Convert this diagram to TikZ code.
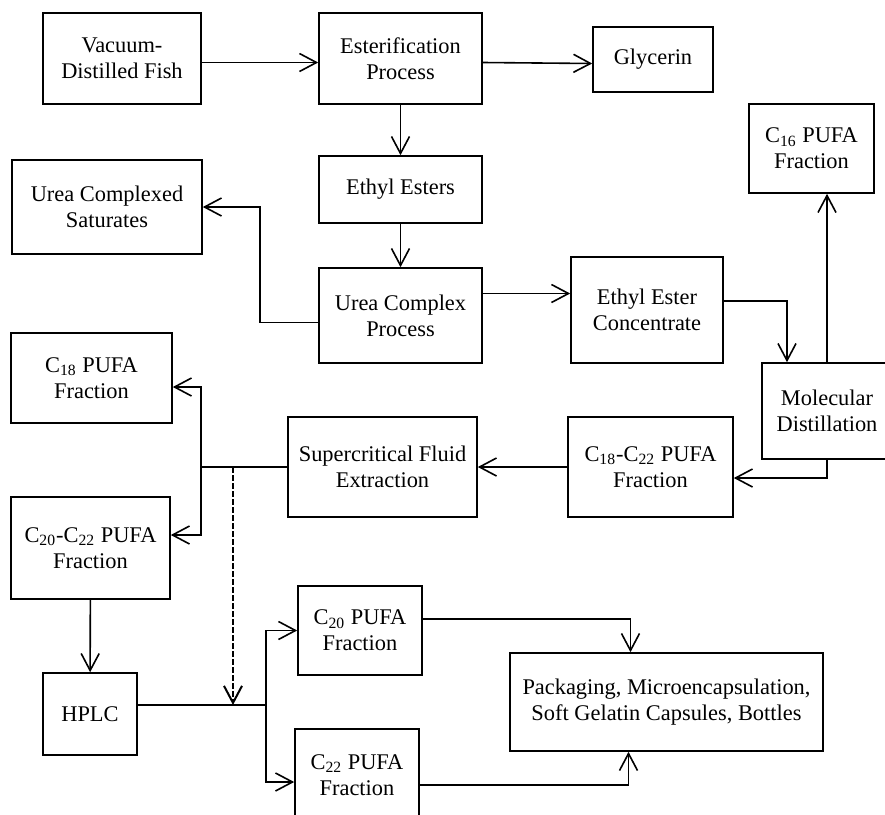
\documentclass[tikz,border=0pt]{standalone}
\usepackage{fontspec}
\setmainfont{Liberation Serif}
\usepackage{tikz}
\usetikzlibrary{arrows.meta, positioning, calc}

\begin{document}
\begin{tikzpicture}[x=0.5pt, y=-0.5pt,
    every node/.style={font=\fontsize{11.2}{13}\selectfont},
    box/.style={draw, line width=0.8pt, align=center, inner sep=0pt},
    arr/.style={line width=0.8pt, -{Straight Barb[length=8.5pt, width=9pt]}}]
  \clip (0,0) rectangle (885,815);
  % process boxes
  \node[box, minimum width=79pt, minimum height=45.5pt] (vac) at (122,58.5) {Vacuum-\\Distilled Fish};
  \node[box, minimum width=81.5pt, minimum height=45.5pt] (est) at (400.5,58.5) {Esterification\\Process};
  \node[box, minimum width=60pt, minimum height=32.5pt] (gly) at (653,59.5) {Glycerin};
  \node[box, minimum width=81.5pt, minimum height=33.5pt] (ethyl) at (400.5,189.5) {Ethyl Esters};
  \node[box, minimum width=95pt, minimum height=47pt] (sat) at (107,207) {Urea Complexed\\Saturates};
  \node[box, minimum width=81.5pt, minimum height=47.5pt] (urea) at (400.5,315.5) {Urea Complex\\Process};
  \node[box, minimum width=76pt, minimum height=53pt] (eec) at (647,310) {Ethyl Ester\\Concentrate};
  \node[box, minimum width=62.5pt, minimum height=44.5pt] (c16) at (811.5,148.5) {C\textsubscript{16} PUFA\\Fraction};
  \node[box, minimum width=65pt, minimum height=48pt] (md) at (827,411) {Molecular\\Distillation};
  \node[box, minimum width=82.5pt, minimum height=50pt] (c1822) at (650.5,467) {C\textsubscript{18}-C\textsubscript{22} PUFA\\Fraction};
  \node[box, minimum width=94.5pt, minimum height=50pt] (sfe) at (382.5,467) {Supercritical Fluid\\Extraction};
  \node[box, minimum width=80.5pt, minimum height=45pt] (c18) at (91.5,378) {C\textsubscript{18} PUFA\\Fraction};
  \node[box, minimum width=79.5pt, minimum height=51pt] (c2022) at (90.5,548) {C\textsubscript{20}-C\textsubscript{22} PUFA\\Fraction};
  \node[box, minimum width=47pt, minimum height=41pt] (hplc) at (90,714) {HPLC};
  \node[box, minimum width=62pt, minimum height=44.5pt] (c20) at (360,630.5) {C\textsubscript{20} PUFA\\Fraction};
  \node[box, minimum width=62pt, minimum height=46pt] (c22) at (357,775) {C\textsubscript{22} PUFA\\Fraction};
  \node[box, minimum width=156.5pt, minimum height=49pt] (pack) at (666.5,702) {Packaging, Microencapsulation,\\Soft Gelatin Capsules, Bottles};

  % branch points
  \coordinate (split) at (201,467);
  \coordinate (tap) at (233,467);
  \coordinate (join) at (266,705);
  \coordinate (u1) at ([yshift=11pt]urea.east);

  % main line
  \draw[arr] ([yshift=-2pt]vac.east) -- ([yshift=-2pt]est.west);
  \draw[arr] ([yshift=-2pt]est.east) -- ([yshift=-2pt]gly.west);
  \draw[arr] (est) -- (ethyl);
  \draw[arr] (ethyl) -- (urea);
  \draw[arr] ([yshift=-3.5pt]urea.west) -- ++(-58,0) |- (sat.east);
  \draw[arr] (u1) -- (u1 -| eec.west);
  \draw[arr] ([yshift=4.5pt]eec.east) -| ([xshift=-20pt]md.north);
  \draw[arr] (md.north) -- (md.north |- c16.south);
  \draw[arr] (md.south) |- ([yshift=-5.5pt]c1822.east);
  \draw[arr] (c1822) -- (sfe);

  % fractionation
  \draw[line width=0.8pt] (sfe.west) -- (split);
  \draw[arr] (split) |- ([yshift=-4.5pt]c18.east);
  \draw[arr] (split) |- ([yshift=6.5pt]c2022.east);
  \draw[arr] (c2022) -- (hplc);
  \draw[line width=0.8pt] ([yshift=4.5pt]hplc.east) -- (join);
  \draw[arr, line width=1pt, dash pattern=on 3pt off 1pt] (tap) -- (tap |- join);
  \draw[arr] (join) |- (c20.west);
  \draw[arr] (join) |- ([yshift=-3.5pt]c22.west);
  \draw[arr] ([yshift=5.75pt]c20.east) -| ([xshift=-18pt]pack.north);
  \draw[arr] ([yshift=-5pt]c22.east) -| ([xshift=-19pt]pack.south);
\end{tikzpicture}
\end{document}
